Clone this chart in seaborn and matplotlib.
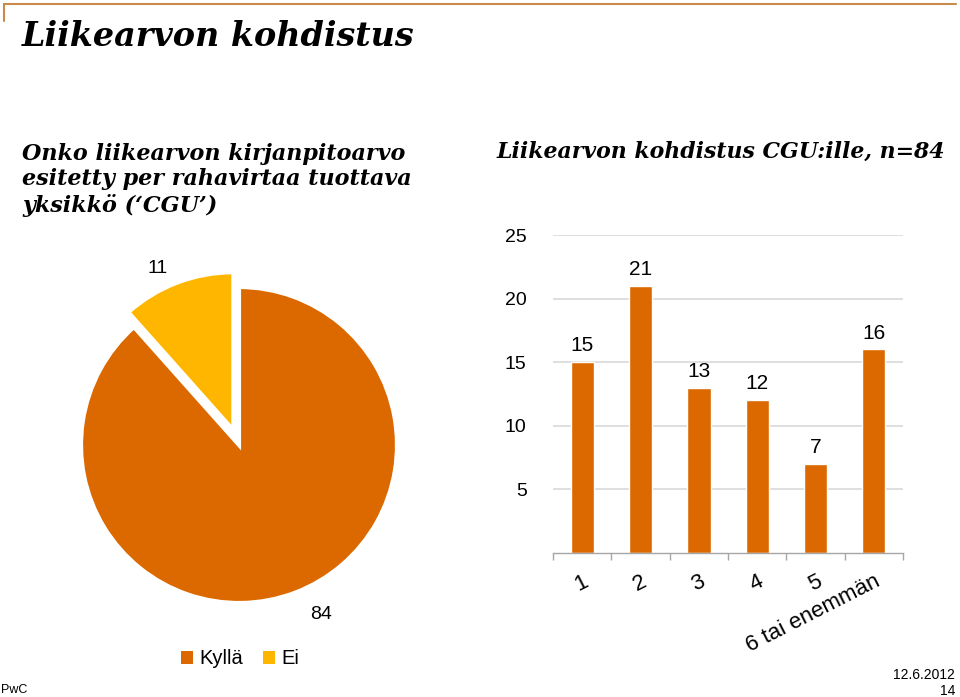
import matplotlib
matplotlib.use("Agg")
import matplotlib.pyplot as plt
from matplotlib.lines import Line2D
from matplotlib.patches import Patch
import seaborn as sns
import pandas as pd
import numpy as np

# ---- data ----
pie_labels = ["Kyllä", "Ei"]
pie_values = [84, 11]
bar_categories = ["1", "2", "3", "4", "5", "6 tai enemmän"]
bar_values = [15, 21, 13, 12, 7, 16]
y_ticks = [5, 10, 15, 20, 25]

ORANGE = "#DC6900"
YELLOW = "#FFB600"

sns.set_theme(style="white")
plt.rcParams["font.family"] = ["Liberation Sans", "DejaVu Sans"]
plt.rcParams["text.color"] = "black"
plt.rcParams["xtick.color"] = "black"
plt.rcParams["ytick.color"] = "black"
plt.rcParams["xtick.labelcolor"] = "black"
plt.rcParams["ytick.labelcolor"] = "black"

W, H = 960, 697
fig = plt.figure(figsize=(W / 100, H / 100), dpi=100)
fig.patch.set_facecolor("white")

def fx(px):
    return px / W

def fy(py):
    return 1 - py / H

serif = ["DejaVu Serif"]

# top decorative line
fig.add_artist(Line2D([fx(4), fx(956)], [fy(4), fy(4)], color="#C98A4B", lw=1.5))
fig.add_artist(Line2D([fx(4), fx(4)], [fy(4), fy(21)], color="#C98A4B", lw=1.5))

# titles
fig.text(fx(22), fy(37), "Liikearvon kohdistus", family=serif, weight="bold",
         style="italic", fontsize=24, va="center", ha="left", color="black")
fig.text(fx(22), fy(180), "Onko liikearvon kirjanpitoarvo\nesitetty per rahavirtaa tuottava\nyksikkö (‘CGU’)",
         family=serif, weight="bold", style="italic", fontsize=16, va="center",
         ha="left", linespacing=1.22, color="black")
fig.text(fx(497), fy(152), "Liikearvon kohdistus CGU:ille, n=84", family=serif,
         weight="bold", style="italic", fontsize=15.8, va="center", ha="left",
         color="black")

# ---- pie ----
cx, cy, r = 239, 445, 158
half = r * 1.25
axp = fig.add_axes([fx(cx - half), fy(cy + half), 2 * half / W, 2 * half / H])
wedges, texts = axp.pie(pie_values, colors=[ORANGE, YELLOW], startangle=90,
                        counterclock=False, explode=[0, 0.1], labels=None,
                        wedgeprops=dict(edgecolor="white", linewidth=3))
axp.set_xlim(-1.25, 1.25)
axp.set_ylim(-1.25, 1.25)
axp.set_aspect("equal")
axp.axis("off")
# value labels placed outside each wedge
tot = sum(pie_values)
start = 90.0
label_dist = [1.19, 1.23]
label_shift = [5.0, 4.0]
for i, v in enumerate(pie_values):
    ang = start - 360 * v / tot / 2 + label_shift[i]
    start -= 360 * v / tot
    a = np.deg2rad(ang)
    axp.text(label_dist[i] * np.cos(a), label_dist[i] * np.sin(a), str(v),
             ha="center", va="center", fontsize=14, color="black")

handles = [Patch(facecolor=ORANGE, edgecolor="none"), Patch(facecolor=YELLOW, edgecolor="none")]
fig.legend(handles, pie_labels, loc="center", bbox_to_anchor=(fx(240), fy(659)),
           ncol=2, frameon=False, fontsize=14.5, handlelength=0.6, handleheight=0.6,
           handletextpad=0.3, columnspacing=1.0)

# ---- bar chart ----
axb = fig.add_axes([fx(553), fy(553), 350 / W, 318 / H])
df = pd.DataFrame({"cat": bar_categories, "val": bar_values})
sns.barplot(data=df, x="cat", y="val", color=ORANGE, width=0.4, ax=axb,
            saturation=1, order=bar_categories)
axb.set_ylim(0, 25)
axb.set_xlim(-0.5, len(bar_categories) - 0.5)
axb.set_yticks(y_ticks)
axb.set_yticklabels([str(t) for t in y_ticks], fontsize=14)
axb.tick_params(axis="y", length=0, pad=19)
axb.yaxis.grid(True, color="#D9D9D9", linewidth=1.2)
axb.set_axisbelow(True)
for s in ["left", "right", "top"]:
    axb.spines[s].set_visible(False)
axb.spines["bottom"].set_color("#A6A6A6")
axb.spines["bottom"].set_linewidth(1)
axb.set_xlabel("")
axb.set_ylabel("")
axb.set_xticks(range(len(bar_categories)))
axb.set_xticklabels(bar_categories, fontsize=16, rotation=27, ha="right",
                    va="top", rotation_mode="anchor")
axb.tick_params(axis="x", which="major", length=0, pad=13)
axb.set_xticks(np.arange(-0.5, len(bar_categories), 1.0), minor=True)
axb.tick_params(axis="x", which="minor", length=5, color="#A6A6A6", width=1,
                bottom=True, direction="out")
for c in axb.containers:
    axb.bar_label(c, labels=[str(v) for v in bar_values], padding=5,
                  fontsize=15, color="black")

# footer
fig.text(fx(1), fy(690), "PwC", fontsize=9, ha="left", va="center")
fig.text(fx(955), fy(675), "12.6.2012", fontsize=10, ha="right", va="center")
fig.text(fx(955), fy(691), "14", fontsize=10, ha="right", va="center")

fig.savefig("out.png", dpi=100, facecolor="white")
